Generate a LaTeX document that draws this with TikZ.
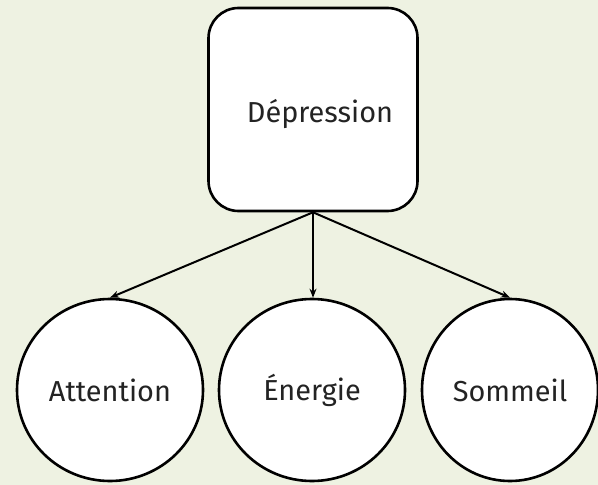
\documentclass[tikz,border=0pt]{standalone}
\usepackage{fontspec}
\setmainfont{Fira Sans}
\usetikzlibrary{arrows.meta,shapes.geometric}
\definecolor{fondvert}{RGB}{238,242,226}
\definecolor{texte}{RGB}{35,35,35}
\tikzset{
    cause/.style={draw=black, fill=white, line width=2.6bp, rounded corners=30bp,
        minimum width=209bp, minimum height=203bp, inner sep=0pt,
        text=texte, font=\fontsize{29}{33}\selectfont},
    effet/.style={ellipse, draw=black, fill=white, line width=2.6bp,
        minimum width=186bp, minimum height=182bp, inner sep=0pt,
        text=texte, font=\fontsize{29}{33}\selectfont},
    lien/.style={-{Stealth[length=9bp, width=7bp]}, line width=2bp}
}
\begin{document}
\begin{tikzpicture}[x=1bp, y=-1bp]
        \fill[fondvert] (0, 0) rectangle (598, 485);
        \useasboundingbox (0, 0) rectangle (598, 485);

        \node[cause] (depression) at (313, 109.5) {\hspace*{14bp}\raisebox{-5bp}[\height][\depth]{Dépression}};

        \node[effet] (attention) at (110, 390) {Attention};
        \node[effet] (energie) at (312, 390) {Énergie};
        \node[effet, minimum width=176bp] (sommeil) at (510, 390) {Sommeil};

        \draw[lien] (depression.south) to (attention.north);
        \draw[lien] (depression.south) to (depression.south |- energie.north);
        \draw[lien] (depression.south) to (sommeil.north);
    \end{tikzpicture}
\end{document}
